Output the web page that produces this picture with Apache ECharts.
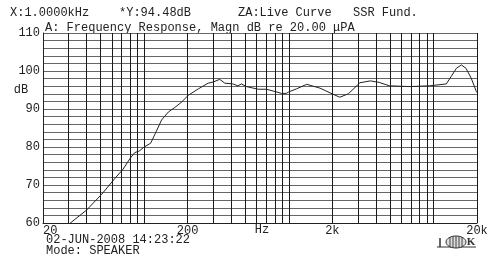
<!DOCTYPE html>
<html>
<head>
<meta charset="utf-8">
<script src="https://cdn.jsdelivr.net/npm/echarts@6/dist/echarts.min.js"></script>
<style>
html,body{margin:0;padding:0;background:#fff;}
#chart{width:500px;height:263px;}
</style>
</head>
<body>
<div id="chart"></div>
<script>
// Frequency (Hz) and magnitude (dB re 20 uPa)
var freqHz = [30, 40, 51, 63, 71, 80, 86, 93, 100, 111, 121, 132, 147, 163, 180, 202, 237, 277, 300, 333, 361, 410, 445, 471, 510, 615, 700, 803, 892, 960, 1000, 1130, 1330, 1640, 2020, 2250, 2320, 2580, 3100, 3660, 4220, 4950, 6830, 9430, 12270, 13230, 14400, 15600, 16800, 18240, 19800, 20000];
var magnDb = [59.6, 63.4, 67.6, 71.8, 74.0, 77.0, 78.5, 79.0, 80.0, 81.0, 84.0, 87.1, 89.2, 90.4, 91.7, 93.6, 95.3, 96.8, 97.1, 97.8, 96.8, 96.6, 96.1, 96.6, 95.9, 95.2, 95.2, 94.6, 94.1, 94.1, 94.5, 95.3, 96.5, 95.5, 93.9, 93.1, 92.8, 94.0, 96.9, 97.4, 97.0, 96.1, 95.9, 96.1, 96.6, 98.5, 100.7, 101.6, 100.7, 98.1, 94.6, 94.3];

// Axis ticks / grid
var gridFreqs = [20, 30, 40, 50, 60, 70, 80, 90, 100, 200, 300, 400, 500, 600, 700, 800, 900, 1000, 2000, 3000, 4000, 5000, 6000, 7000, 8000, 9000, 10000, 20000];
var xLabelValues = [20, 200, 2000, 20000];
var xLabelTexts = ['20', '200', '2k', '20k'];
var yLabelValues = [60, 70, 80, 90, 100, 110];

// Header / footer texts
var headerTexts = ['X:1.0000kHz', '*Y:94.48dB', 'ZA:Live Curve', 'SSR Fund.'];
var subTitle = 'A: Frequency Response, Magn dB re 20.00 \u03bcPA';
var footerTexts = ['02-JUN-2008 14:23:22', 'Mode: SPEAKER'];

var FONT = "12px 'Liberation Mono', monospace";
var TXT = '#222';

var seriesData = freqHz.map(function (f, i) { return [f, magnDb[i]]; });

function txt(x, y, s, align) {
  return {
    type: 'text', x: x, y: y, silent: true,
    style: { text: s, font: FONT, fill: TXT, textAlign: align || 'left', textVerticalAlign: 'middle', verticalAlign: 'middle' }
  };
}

var chart = echarts.init(document.getElementById('chart'), null, { renderer: 'canvas' });
chart.setOption({
  animation: false,
  backgroundColor: '#fff',
  grid: { left: 43, top: 33, right: 23, bottom: 40, containLabel: false },
  xAxis: {
    type: 'log', logBase: 10, min: 20, max: 20000,
    axisLine: { show: true, lineStyle: { color: '#222', width: 1 } },
    axisTick: { show: false, customValues: gridFreqs },
    axisLabel: {
      customValues: xLabelValues, margin: 2,
      alignMinLabel: 'left',
      fontFamily: 'Liberation Mono', fontSize: 12, color: TXT,
      formatter: function (v) { var i = xLabelValues.indexOf(Math.round(v)); return i >= 0 ? xLabelTexts[i] : ''; }
    },
    splitLine: { show: true, lineStyle: { color: '#1a1a1a', width: 1 } }
  },
  yAxis: {
    type: 'value', min: 60, max: 110, interval: 2,
    axisLine: { show: true, lineStyle: { color: '#222', width: 1 } },
    axisTick: { show: false },
    axisLabel: {
      customValues: yLabelValues, margin: 3,
      fontFamily: 'Liberation Mono', fontSize: 12, color: TXT
    },
    splitLine: { show: true, lineStyle: { color: '#666', width: 1 } }
  },
  series: [{
    type: 'line', data: seriesData, showSymbol: false, smooth: false, clip: true,
    lineStyle: { color: '#222', width: 1 }
  }],
  graphic: [
    txt(10, 13, headerTexts[0]),
    txt(119, 13, headerTexts[1]),
    txt(238, 13, headerTexts[2]),
    txt(353, 13, headerTexts[3]),
    txt(45, 28, subTitle),
    txt(21, 90, 'dB', 'center'),
    txt(262, 230, 'Hz', 'center'),
    txt(46, 240, footerTexts[0]),
    txt(46, 251, footerTexts[1]),
    { type: 'group', silent: true, children: [
      { type: 'line', shape: { x1: 437, y1: 247, x2: 476, y2: 247 }, style: { stroke: '#333', lineWidth: 1 } },
      { type: 'line', shape: { x1: 440, y1: 238, x2: 440, y2: 247 }, style: { stroke: '#333', lineWidth: 1.5 } },
      { type: 'ellipse', shape: { cx: 456, cy: 242, rx: 10, ry: 6 }, style: { fill: '#ddd', stroke: '#333', lineWidth: 1 } },
      { type: 'line', shape: { x1: 450, y1: 237, x2: 450, y2: 247 }, style: { stroke: '#444', lineWidth: 1 } },
      { type: 'line', shape: { x1: 453, y1: 236, x2: 453, y2: 248 }, style: { stroke: '#444', lineWidth: 1 } },
      { type: 'line', shape: { x1: 456, y1: 236, x2: 456, y2: 248 }, style: { stroke: '#444', lineWidth: 1 } },
      { type: 'line', shape: { x1: 459, y1: 236, x2: 459, y2: 248 }, style: { stroke: '#444', lineWidth: 1 } },
      { type: 'line', shape: { x1: 462, y1: 237, x2: 462, y2: 247 }, style: { stroke: '#444', lineWidth: 1 } },
      { type: 'text', x: 471, y: 242, style: { text: 'K', font: "bold 11px 'Liberation Serif', serif", fill: '#333', textAlign: 'center', textVerticalAlign: 'middle', verticalAlign: 'middle' } }
    ] }
  ]
});
</script>
</body>
</html>
